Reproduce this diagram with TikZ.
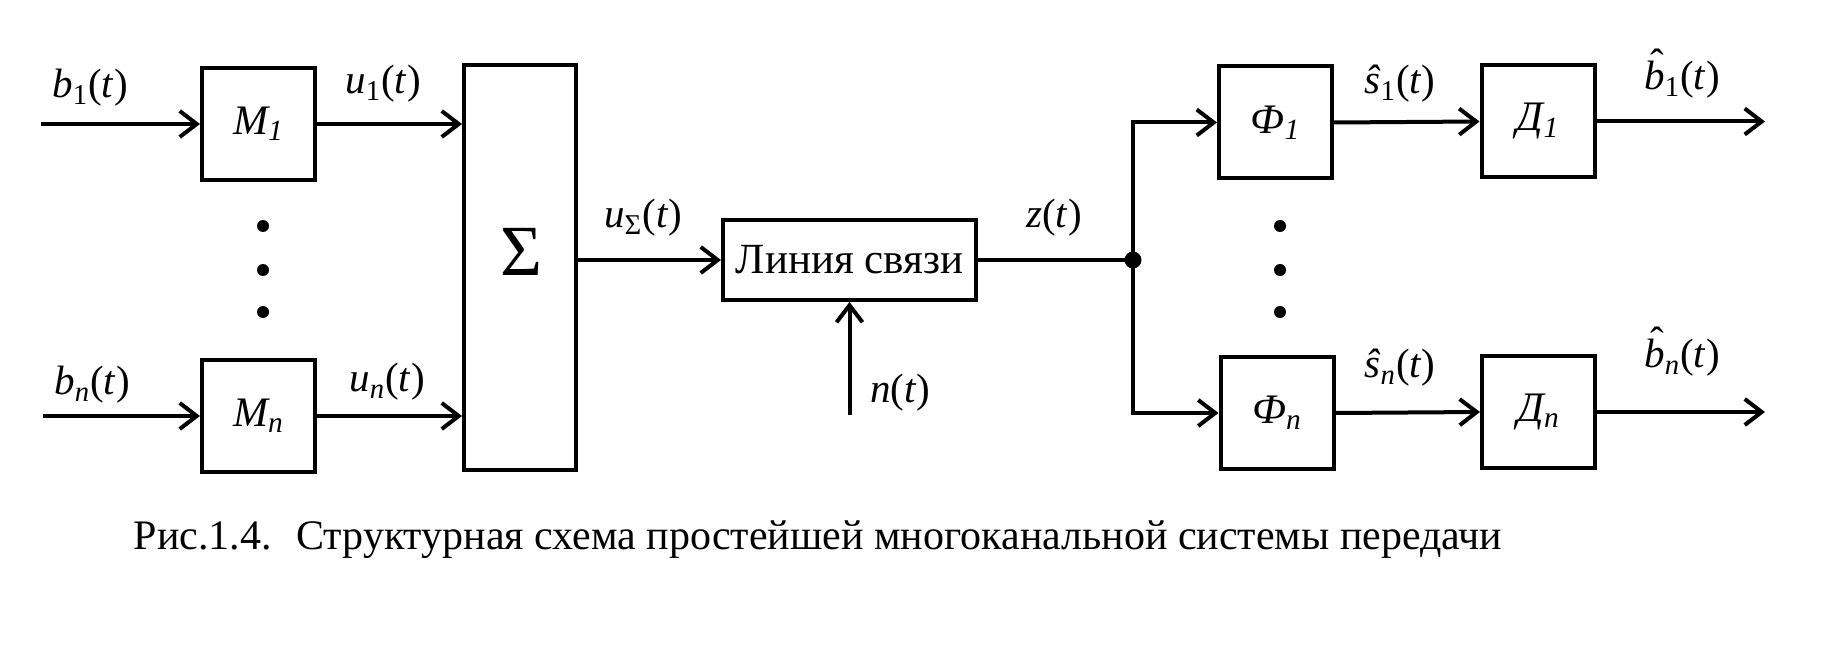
\documentclass[tikz,border=0pt]{standalone}
\usepackage{fontspec}
\setmainfont{Liberation Serif}
\newfontfamily\serf{Liberation Serif}
\usetikzlibrary{arrows.meta}
\newcommand\hatit[2]{\leavevmode\ooalign{\textit{#1}\cr\hidewidth\raisebox{#2}{\kern0.14em ˆ}\hidewidth\cr}}
\begin{document}
\begin{tikzpicture}[x=0.5pt,y=-0.5pt,
  blk/.style={draw, line width=2pt, minimum width=56.5pt, minimum height=56pt, inner sep=0pt, font=\serf\fontsize{21}{24}\selectfont\itshape},
  conn/.style={line width=2pt, -{Straight Barb[length=8.5pt,width=13pt]}},
  wire/.style={line width=2pt},
  lbl/.style={font=\serf\fontsize{20.5}{24}\selectfont, inner sep=0pt},
  dotn/.style={circle, fill, inner sep=0pt, minimum size=6pt}
]
\useasboundingbox (0,0) rectangle (1842,652);
% blocks
\node[blk] (M1) at (258.5,124) {M\textsubscript{1}};
\node[blk] (Mn) at (258.5,416) {M\textsubscript{n}};
\node[draw, line width=2pt, minimum width=56pt, minimum height=202.5pt, inner sep=0pt] (S) at (520,267.5) {};
\node[font=\serf\fontsize{36}{40}\selectfont, inner sep=0pt] (Ssym) at (521,252) {Σ};
\node[draw, line width=2pt, minimum width=126.5pt, minimum height=40pt, inner sep=0pt, font=\serf\fontsize{21.5}{24}\selectfont] (L) at (849.5,260) {Линия связи};
\node[blk] (F1) at (1275.5,122.5) {Ф\textsubscript{1}};
\node[blk] (Fn) at (1277,413) {Ф\textsubscript{n}};
\node[blk] (D1) at (1538,121.5) {Д\textsubscript{1}};
\node[blk] (Dn) at (1538.5,412) {Д\textsubscript{n}};
\node[dotn, minimum size=8.5pt] (J) at (1133,260) {};
% free ends
\coordinate (inb1) at (41,124);
\coordinate (inbn) at (43,416);
\coordinate (nin) at (849.5,415);
\coordinate (out1) at (1765,121.5);
\coordinate (outn) at (1765,412);
\coordinate (jt) at (1133,122.5);
\coordinate (jb) at (1133,413);
% connectors
\draw[conn] (inb1) -- (M1.west);
\draw[conn] (inbn) -- (Mn.west);
\draw[conn] (M1.east) -- (M1.east -| S.west);
\draw[conn] (Mn.east) -- (Mn.east -| S.west);
\draw[conn] (S.east |- L.west) -- (L.west);
\draw[conn] (nin) -- (L.south);
\draw[wire] (L.east) -- (J.center);
\draw[wire, line cap=rect] (jt) -- (jb);
\draw[conn] (jt) -- (F1.west);
\draw[conn] (jb) -- (Fn.west);
\draw[conn] (F1.east) -- (D1.west);
\draw[conn] (Fn.east) -- (Dn.west);
\draw[conn] (D1.east) -- (out1);
\draw[conn] (Dn.east) -- (outn);
% dots
\foreach \yy [count=\i] in {226,270,312} {
  \node[dotn] (ldot\i) at (263,\yy) {};
  \node[dotn] (rdot\i) at (1280,\yy) {};
}
% labels
\node[lbl] (lb1) at (90,88) {\textit{b}\textsubscript{1}(\textit{t})};
\node[lbl] (lu1) at (383,84) {\textit{u}\textsubscript{1}(\textit{t})};
\node[lbl] (lbn) at (92,385) {\textit{b}\textsubscript{\textit{n}}(\textit{t})};
\node[lbl] (lun) at (387,382) {\textit{u}\textsubscript{\textit{n}}(\textit{t})};
\node[lbl] (lus) at (643,218) {\textit{u}\textsubscript{Σ}(\textit{t})};
\node[lbl] (lz) at (1054,218) {\textit{z}(\textit{t})};
\node[lbl] (ln) at (900,393) {\textit{n}(\textit{t})};
\node[lbl] (ls1) at (1400,84) {\textit{\^{s}}\textsubscript{1}(\textit{t})};
\node[lbl] (lsn) at (1400,368) {\textit{\^{s}}\textsubscript{\textit{n}}(\textit{t})};
\node[lbl] (lob1) at (1682,80) {\hatit{b}{0.3em}\textsubscript{1}(\textit{t})};
\node[lbl] (lobn) at (1682,358) {\hatit{b}{0.3em}\textsubscript{\textit{n}}(\textit{t})};
% caption
\node[font=\serf\fontsize{21}{24}\selectfont, inner sep=0pt] (cap) at (818,540) {Рис.1.4.~ Структурная схема простейшей многоканальной системы передачи};
\end{tikzpicture}
\end{document}
